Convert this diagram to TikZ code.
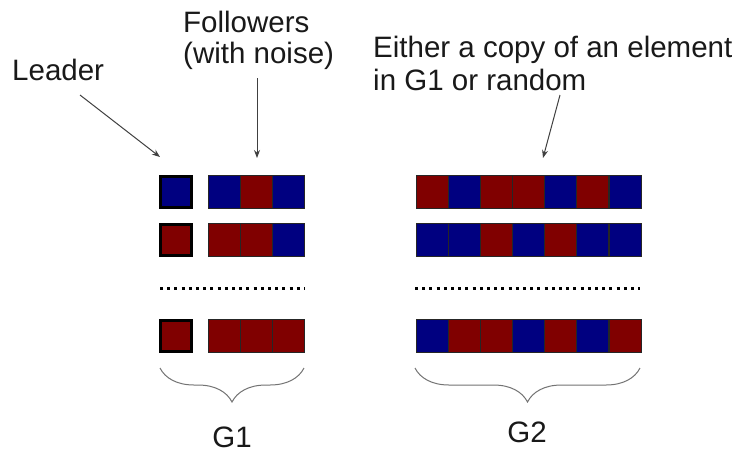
\documentclass[tikz,border=0pt]{standalone}
\usepackage{fontspec}
\setmainfont{Liberation Sans}
\usetikzlibrary{arrows.meta,decorations.pathreplacing}
\definecolor{cblue}{HTML}{000080}
\definecolor{cred}{HTML}{800000}
\definecolor{arrowgray}{HTML}{404040}
\tikzset{
  lbl/.style={font=\fontsize{29.5}{31}\selectfont, inner sep=0pt, text=black!90},
  cell/.style={draw=black!85, line width=0.8pt, minimum width=32pt, minimum height=33pt, inner sep=0pt},
  bcell/.style={cell, fill=cblue},
  rcell/.style={cell, fill=cred},
  leadbox/.style={draw=black, line width=3pt, minimum size=31pt, inner sep=0pt},
  ptr/.style={draw=arrowgray, line width=1pt, -{Stealth[length=8pt,width=6pt]}},
  dots/.style={line width=3pt, dash pattern=on 3pt off 4.2pt},
  gbrace/.style={draw=black!55, line width=1pt, decorate, decoration={brace, mirror, amplitude=34pt}}
}
\begin{document}
\begin{tikzpicture}[x=1pt,y=-1pt]
\path[fill=white, use as bounding box] (0,0) rectangle (736,456);

% labels
\node[lbl, anchor=base west] (leader) at (12,80) {Leader};
\node[lbl, anchor=base west] (fol1) at (183,32) {Followers};
\node[lbl, anchor=base west] (fol2) at (183,63) {(with noise)};
\node[lbl, anchor=base west] (eit1) at (373,57) {Either a copy of an element};
\node[lbl, anchor=base west] (eit2) at (373,90) {in G1 or random};

% G1 leaders
\node[leadbox, fill=cblue] (L1) at (176,191.5) {};
\node[leadbox, fill=cred] (L2) at (176,239.5) {};
\node[leadbox, fill=cred] (L3) at (176,336) {};

% G1 followers
\node[bcell] (f11) at (224,191.5) {};
\node[rcell] (f12) at (256,191.5) {};
\node[bcell] (f13) at (288,191.5) {};
\node[rcell] (f21) at (224,239.5) {};
\node[rcell] (f22) at (256,239.5) {};
\node[bcell] (f23) at (288,239.5) {};
\node[rcell] (f31) at (224,336) {};
\node[rcell] (f32) at (256,336) {};
\node[rcell] (f33) at (288,336) {};

% G2 rows
\foreach \c [count=\i from 0] in {r,b,r,r,b,r,b}{
  \node[\c cell] (ga\i) at ({432.07+32.14*\i},191.5) {};
}
\foreach \c [count=\i from 0] in {b,b,r,b,r,b,b}{
  \node[\c cell] (gb\i) at ({432.07+32.14*\i},239.5) {};
}
\foreach \c [count=\i from 0] in {b,r,r,b,r,b,r}{
  \node[\c cell] (gc\i) at ({432.07+32.14*\i},336) {};
}

% dotted separators
\coordinate (d1a) at (160,288);
\coordinate (d1b) at (305,288);
\coordinate (d2a) at (415,288);
\coordinate (d2b) at (640,288);
\draw[dots] (d1a) -- (d1b);
\draw[dots] (d2a) -- (d2b);

% arrows
\coordinate (la) at (80,95);
\coordinate (lb) at (160,157);
\coordinate (fa) at (257,78);
\coordinate (fb) at (257,158);
\coordinate (ea) at (560,95);
\coordinate (eb) at (543,158);
\draw[ptr] (la) -- (lb);
\draw[ptr] (fa) -- (fb);
\draw[ptr] (ea) -- (eb);

% braces
\coordinate (b1a) at (160,368);
\coordinate (b1b) at (304,368);
\coordinate (b2a) at (415,368);
\coordinate (b2b) at (640,368);
\draw[gbrace] (b1a) -- (b1b);
\draw[gbrace] (b2a) -- (b2b);

\node[lbl] (g1) at (232,437) {G1};
\node[lbl] (g2) at (527,432) {G2};
\end{tikzpicture}
\end{document}
